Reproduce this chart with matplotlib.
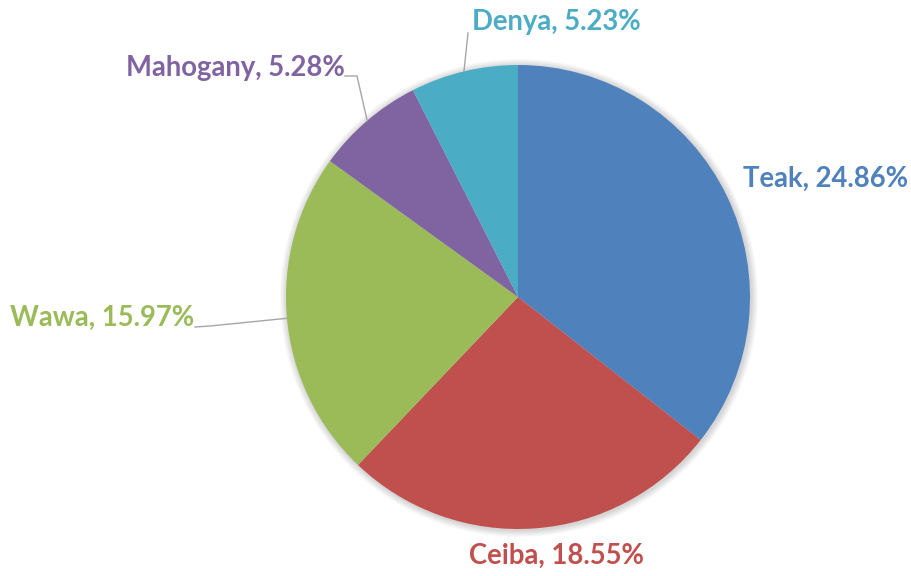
import numpy as np
import matplotlib.pyplot as plt
from matplotlib.patches import Circle

# timber species share
species = ['Teak', 'Ceiba', 'Wawa', 'Mahogany', 'Denya']
shares = [24.86, 18.55, 15.97, 5.28, 5.23]
colors = ['#4F81BD', '#C0504D', '#9BBB59', '#8064A2', '#4BACC6']

W, H = 912, 576
cx, cy, r = 518, H - 297, 232

fig = plt.figure(figsize=(W / 100, H / 100), dpi=100)
ax = fig.add_axes([0, 0, 1, 1])

# soft shadow around the pie
for i in range(1, 8):
    ax.add_patch(Circle((cx + 1, cy - 1), r + i, color='#000000', alpha=0.025, lw=0, zorder=0))

wedges, _ = ax.pie(shares, colors=colors, startangle=90, counterclock=False,
                   center=(cx, cy), radius=r, frame=True,
                   wedgeprops=dict(linewidth=0))
ax.set_xlim(0, W)
ax.set_ylim(0, H)
ax.axis('off')

# label placement (pixel coordinates, y from top) and leader elbows
label_pos = {
    'Teak': (826, 179),
    'Ceiba': (556, 556),
    'Wawa': (102, 318),
    'Mahogany': (235, 68),
    'Denya': (556, 22),
}
elbows = {
    'Wawa': [(195, 327), (210, 326)],
    'Mahogany': [(345, 76), (357, 76)],
    'Denya': [(468, 33)],
}

for w, name, val, col in zip(wedges, species, shares, colors):
    x, y = label_pos[name]
    ax.text(x, H - y, f'{name}, {val:.2f}%', color=col, fontsize=19.8,
            fontweight='bold', family=['Lato', 'DejaVu Sans'],
            ha='center', va='center')
    if name in elbows:
        mid = np.deg2rad((w.theta1 + w.theta2) / 2)
        ex, ey = cx + r * np.cos(mid), cy + r * np.sin(mid)
        pts = [(px, H - py) for px, py in elbows[name]] + [(ex, ey)]
        xs, ys = zip(*pts)
        ax.plot(xs, ys, color='#A6A6A6', lw=1, zorder=1)

fig.savefig('out.png', dpi=100, facecolor='white')
